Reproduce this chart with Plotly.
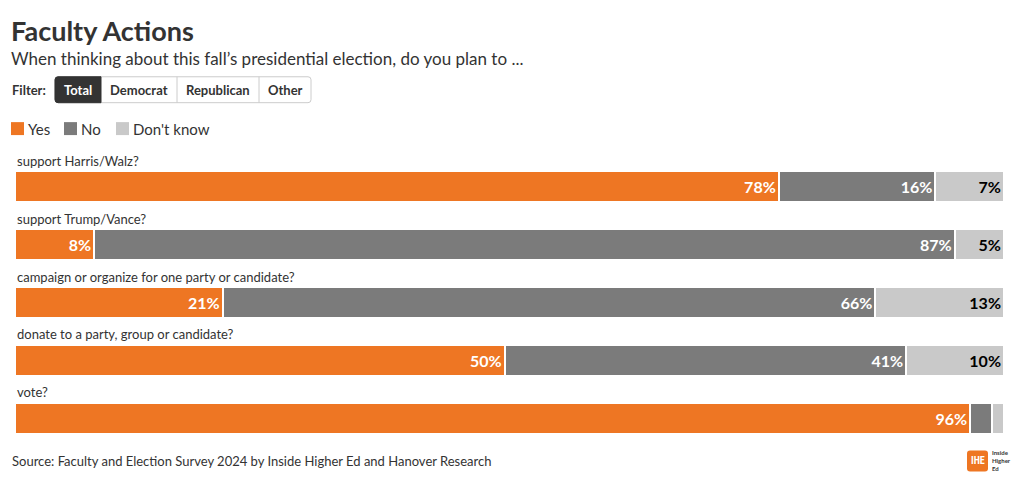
import plotly.graph_objects as go

categories = ["support Harris/Walz?", "support Trump/Vance?",
              "campaign or organize for one party or candidate?",
              "donate to a party, group or candidate?", "vote?"]
yes_vals = [78, 8, 21, 50, 96]
no_vals = [16, 87, 66, 41, 2.2]
dk_vals = [7, 5, 13, 10, 1.2]
yes_labels = ["78%", "8%", "21%", "50%", "96%"]
no_labels = ["16%", "87%", "66%", "41%", ""]
dk_labels = ["7%", "5%", "13%", "10%", ""]
series_names = ["Yes", "No", "Don't know"]
colors = ["#EE7623", "#7B7B7B", "#C9C9C9"]
filters = ["Total", "Democrat", "Republican", "Other"]

W, H = 1020, 485
ML, MR, MT, MB = 15, 16, 157.5, 37.5
PW, PH = W - ML - MR, H - MT - MB
FONT = "Source Sans Pro, Lato, sans-serif"
TXT = "#333333"


def px(x):
    return (x - ML) / PW


def py(y):
    return (H - MB - y) / PH


fig = go.Figure()
for name, vals, labels, col, tcol in [
    (series_names[0], yes_vals, yes_labels, colors[0], "white"),
    (series_names[1], no_vals, no_labels, colors[1], "white"),
    (series_names[2], dk_vals, dk_labels, colors[2], "black"),
]:
    fig.add_trace(go.Bar(
        y=categories, x=vals, name=name, orientation="h",
        marker=dict(color=col, line=dict(color="white", width=2)),
        text=labels, textposition="inside", insidetextanchor="end",
        textfont=dict(family=FONT, size=16, color=tcol, weight="bold"),
        textangle=0, constraintext="none", cliponaxis=False,
        showlegend=False, hoverinfo="x+y+name",
    ))

annotations = []
shapes = []

# category labels above bars
for c in categories:
    annotations.append(dict(x=0, xref="paper", y=c, yref="y", text=c,
                            xanchor="left", yanchor="middle", yshift=26, xshift=0,
                            showarrow=False, font=dict(family=FONT, size=13, color=TXT)))

# title & subtitle
annotations.append(dict(x=px(9), y=py(30), xref="paper", yref="paper", text="<b>Faculty Actions</b>",
                        xanchor="left", yanchor="middle", showarrow=False,
                        font=dict(family=FONT, size=27, color=TXT)))
annotations.append(dict(x=px(9), y=py(58), xref="paper", yref="paper",
                        text="When thinking about this fall’s presidential election, do you plan to ...",
                        xanchor="left", yanchor="middle", showarrow=False,
                        font=dict(family=FONT, size=17, color=TXT)))

# filter row
annotations.append(dict(x=px(10), y=py(89), xref="paper", yref="paper", text="<b>Filter:</b>",
                        xanchor="left", yanchor="middle", showarrow=False,
                        font=dict(family=FONT, size=13, color=TXT)))
bx = [55, 101, 177, 259, 311]
by0, by1 = 76, 102
r = 3
# outer rounded container
x0, x1 = bx[0], bx[-1]
path = (f"M {px(x0 + r)},{py(by0)} L {px(x1 - r)},{py(by0)} Q {px(x1)},{py(by0)} {px(x1)},{py(by0 + r)} "
        f"L {px(x1)},{py(by1 - r)} Q {px(x1)},{py(by1)} {px(x1 - r)},{py(by1)} "
        f"L {px(x0 + r)},{py(by1)} Q {px(x0)},{py(by1)} {px(x0)},{py(by1 - r)} "
        f"L {px(x0)},{py(by0 + r)} Q {px(x0)},{py(by0)} {px(x0 + r)},{py(by0)} Z")
shapes.append(dict(type="path", path=path, xref="paper", yref="paper",
                   line=dict(color="#CCCCCC", width=1), fillcolor="white", layer="below"))
# active button
x0a, x1a = bx[0], bx[1]
path2 = (f"M {px(x0a + r)},{py(by0)} L {px(x1a)},{py(by0)} L {px(x1a)},{py(by1)} "
         f"L {px(x0a + r)},{py(by1)} Q {px(x0a)},{py(by1)} {px(x0a)},{py(by1 - r)} "
         f"L {px(x0a)},{py(by0 + r)} Q {px(x0a)},{py(by0)} {px(x0a + r)},{py(by0)} Z")
shapes.append(dict(type="path", path=path2, xref="paper", yref="paper",
                   line=dict(color="#333333", width=1), fillcolor="#333333"))
for xd in bx[2:4]:
    shapes.append(dict(type="line", x0=px(xd), x1=px(xd), y0=py(by0), y1=py(by1),
                       xref="paper", yref="paper", line=dict(color="#CCCCCC", width=1)))
for i, f in enumerate(filters):
    cx = (bx[i] + bx[i + 1]) / 2
    annotations.append(dict(x=px(cx), y=py(89), xref="paper", yref="paper", text=f"<b>{f}</b>",
                            xanchor="center", yanchor="middle", showarrow=False,
                            font=dict(family=FONT, size=13, color="white" if i == 0 else TXT)))

# legend
leg_x = [11, 64, 116]
for i, (n, c) in enumerate(zip(series_names, colors)):
    shapes.append(dict(type="rect", x0=px(leg_x[i]), x1=px(leg_x[i] + 13), y0=py(121.5), y1=py(134.5),
                       xref="paper", yref="paper", line=dict(width=0), fillcolor=c))
    annotations.append(dict(x=px(leg_x[i] + 15), y=py(128), xref="paper", yref="paper", text=n,
                            xanchor="left", yanchor="middle", showarrow=False,
                            font=dict(family=FONT, size=15, color=TXT)))

# source
annotations.append(dict(x=px(10), y=py(462), xref="paper", yref="paper",
                        text="Source: Faculty and Election Survey 2024 by Inside Higher Ed and Hanover Research",
                        xanchor="left", yanchor="middle", showarrow=False,
                        font=dict(family=FONT, size=13, color=TXT)))

# logo
lx0, lx1, ly0, ly1 = 967, 988, 451, 472
r2 = 3
lp = (f"M {px(lx0 + r2)},{py(ly0)} L {px(lx1 - r2)},{py(ly0)} Q {px(lx1)},{py(ly0)} {px(lx1)},{py(ly0 + r2)} "
      f"L {px(lx1)},{py(ly1 - r2)} Q {px(lx1)},{py(ly1)} {px(lx1 - r2)},{py(ly1)} "
      f"L {px(lx0 + r2)},{py(ly1)} Q {px(lx0)},{py(ly1)} {px(lx0)},{py(ly1 - r2)} "
      f"L {px(lx0)},{py(ly0 + r2)} Q {px(lx0)},{py(ly0)} {px(lx0 + r2)},{py(ly0)} Z")
shapes.append(dict(type="path", path=lp, xref="paper", yref="paper",
                   line=dict(width=0), fillcolor="#EE7623"))
annotations.append(dict(x=px(977.5), y=py(461.5), xref="paper", yref="paper", text="<b>IHE</b>",
                        xanchor="center", yanchor="middle", showarrow=False,
                        font=dict(family="Roboto Condensed, Roboto, sans-serif", size=10, color="white")))
annotations.append(dict(x=px(990), y=py(461.5), xref="paper", yref="paper",
                        text="<b>Inside<br>Higher<br>Ed</b>",
                        xanchor="left", yanchor="middle", showarrow=False, align="left",
                        font=dict(family=FONT, size=6, color=TXT)))

fig.update_layout(
    width=W, height=H,
    margin=dict(l=ML, r=MR, t=MT, b=MB, pad=0),
    barmode="stack", barnorm="percent", bargap=0.466,
    plot_bgcolor="white", paper_bgcolor="white",
    xaxis=dict(visible=False, range=[0, 100], fixedrange=True),
    yaxis=dict(visible=False, range=[len(categories) - 0.5, -0.5], autorange=False,
               fixedrange=True),
    shapes=shapes, annotations=annotations,
    font=dict(family=FONT, color=TXT),
    uniformtext=dict(mode="show", minsize=8),
)

fig.write_html("out.html")
